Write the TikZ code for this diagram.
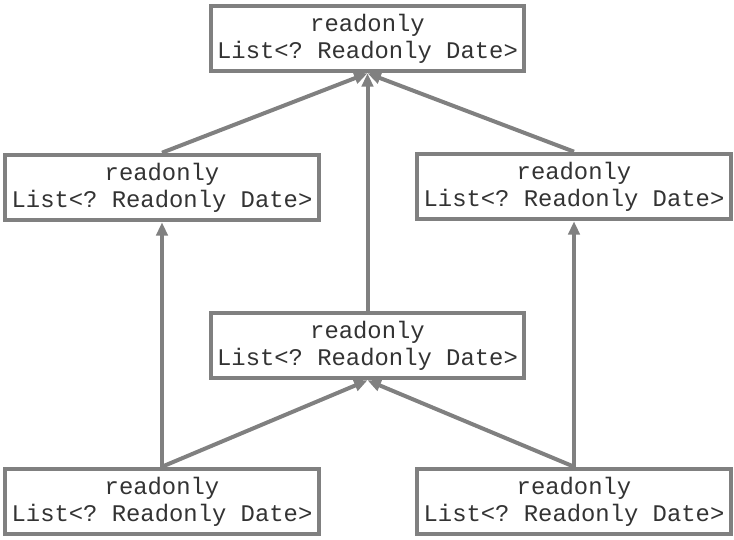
\documentclass[tikz,border=0pt]{standalone}
\usepackage{fontspec}
\setmonofont{Liberation Mono}
\usetikzlibrary{arrows.meta}
\definecolor{boxgray}{HTML}{808080}
\definecolor{textgray}{HTML}{333333}
\tikzstyle{typebox} = [draw=boxgray, line width=3.2pt, fill=white, text=textgray,
  minimum width=235pt, minimum height=49pt, align=center, inner sep=0pt,
  font=\ttfamily\fontsize{17.9}{20.3}\selectfont]
\tikzstyle{arrow} = [draw=boxgray, line width=3pt, -{Triangle[length=10pt,width=8.5pt]}]
\newcommand{\rolist}{readonly\\List<? Readonly Date>}

\begin{document}
\begin{tikzpicture}[x=0.75pt,y=-0.75pt]
\useasboundingbox (0,0) rectangle (734,539);

\node[typebox] (top) at (367.5,38.5) {\rolist};
\node[typebox] (midleft) at (162,187.5) {\rolist};
\node[typebox] (midright) at (574,186.5) {\rolist};
\node[typebox] (center) at (367.5,345.5) {\rolist};
\node[typebox] (botleft) at (162,501.5) {\rolist};
\node[typebox] (botright) at (574,501.5) {\rolist};

%subtype arrows, each points up to its supertype
\draw[arrow] (midleft.north) -- (top.south);
\draw[arrow] (midright.north) -- (top.south);
\draw[arrow] (center.north) -- (top.south);
\draw[arrow] (botleft.north) -- (midleft.south);
\draw[arrow] (botleft.north) -- (center.south);
\draw[arrow] (botright.north) -- (center.south);
\draw[arrow] (botright.north) -- (midright.south);

\end{tikzpicture}
\end{document}
